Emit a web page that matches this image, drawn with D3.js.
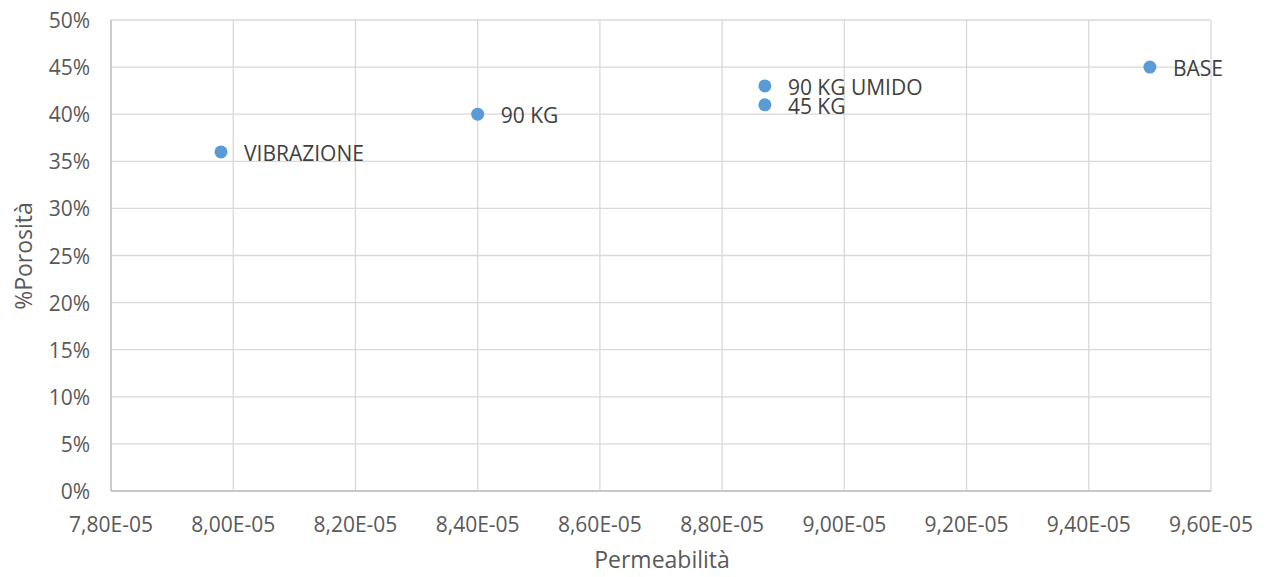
<!DOCTYPE html>
<html>
<head>
<meta charset="utf-8">
<script src="https://cdn.jsdelivr.net/npm/d3@7"></script>
<style>
  html, body { margin: 0; padding: 0; background: #fff; }
  svg { display: block; font-family: "Open Sans", "Liberation Sans", sans-serif; }
</style>
</head>
<body>
<svg id="chart" width="1269" height="577"></svg>
<script>
// Samples: permeability vs porosity
const labels = ["VIBRAZIONE", "90 KG", "90 KG UMIDO", "45 KG", "BASE"];
const permeability = [7.98e-5, 8.40e-5, 8.87e-5, 8.87e-5, 9.50e-5];
const porosity = [0.36, 0.40, 0.43, 0.41, 0.45];

const xTicks = [7.8e-5, 8.0e-5, 8.2e-5, 8.4e-5, 8.6e-5, 8.8e-5, 9.0e-5, 9.2e-5, 9.4e-5, 9.6e-5];
const yTicks = [0, 0.05, 0.10, 0.15, 0.20, 0.25, 0.30, 0.35, 0.40, 0.45, 0.50];

const svg = d3.select("#chart");
const plotL = 111, plotR = 1211, plotT = 20, plotB = 491;

const x = d3.scaleLinear().domain([7.8e-5, 9.6e-5]).range([plotL, plotR]);
const y = d3.scaleLinear().domain([0, 0.5]).range([plotB, plotT]);

const fmtX = v => v.toExponential(2).replace(".", ",").replace(/e-(\d)$/, "E-0$1").replace(/e-(\d\d)$/, "E-$1");
const fmtY = v => Math.round(v * 100) + "%";

// gridlines
svg.append("g").selectAll("line").data(xTicks).join("line")
  .attr("x1", d => x(d)).attr("x2", d => x(d))
  .attr("y1", plotT).attr("y2", plotB)
  .attr("stroke", "#d9d9d9").attr("stroke-width", 1.3);
svg.append("g").selectAll("line").data(yTicks).join("line")
  .attr("x1", plotL).attr("x2", plotR)
  .attr("y1", d => y(d)).attr("y2", d => y(d))
  .attr("stroke", "#d9d9d9").attr("stroke-width", 1.3);

// axis lines
svg.append("line").attr("x1", plotL).attr("x2", plotR).attr("y1", plotB).attr("y2", plotB)
  .attr("stroke", "#bfbfbf").attr("stroke-width", 1.3);
svg.append("line").attr("x1", plotL).attr("x2", plotL).attr("y1", plotT).attr("y2", plotB)
  .attr("stroke", "#bfbfbf").attr("stroke-width", 1.3);

// tick labels
svg.append("g").selectAll("text").data(xTicks).join("text")
  .attr("x", d => x(d)).attr("y", 532)
  .attr("text-anchor", "middle")
  .attr("font-size", 21).attr("fill", "#595959")
  .text(fmtX);
svg.append("g").selectAll("text").data(yTicks).join("text")
  .attr("x", 90).attr("y", d => y(d) + 8)
  .attr("text-anchor", "end")
  .attr("font-size", 21).attr("fill", "#595959")
  .text(fmtY);

// axis titles
svg.append("text").attr("x", 662).attr("y", 568)
  .attr("text-anchor", "middle").attr("font-size", 23).attr("fill", "#595959")
  .text("Permeabilità");
svg.append("text")
  .attr("transform", `translate(32, 256) rotate(-90)`)
  .attr("text-anchor", "middle").attr("font-size", 23).attr("fill", "#595959")
  .text("%Porosità");

// points
const pts = labels.map((l, i) => ({ label: l, p: permeability[i], v: porosity[i] }));
svg.append("g").selectAll("circle").data(pts).join("circle")
  .attr("cx", d => x(d.p)).attr("cy", d => y(d.v)).attr("r", 6.5)
  .attr("fill", "#5b9bd5");

// data labels
svg.append("g").selectAll("text").data(pts).join("text")
  .attr("x", d => x(d.p) + 23).attr("y", d => y(d.v) + 9)
  .attr("font-size", 21).attr("fill", "#404040")
  .text(d => d.label);
</script>
</body>
</html>
